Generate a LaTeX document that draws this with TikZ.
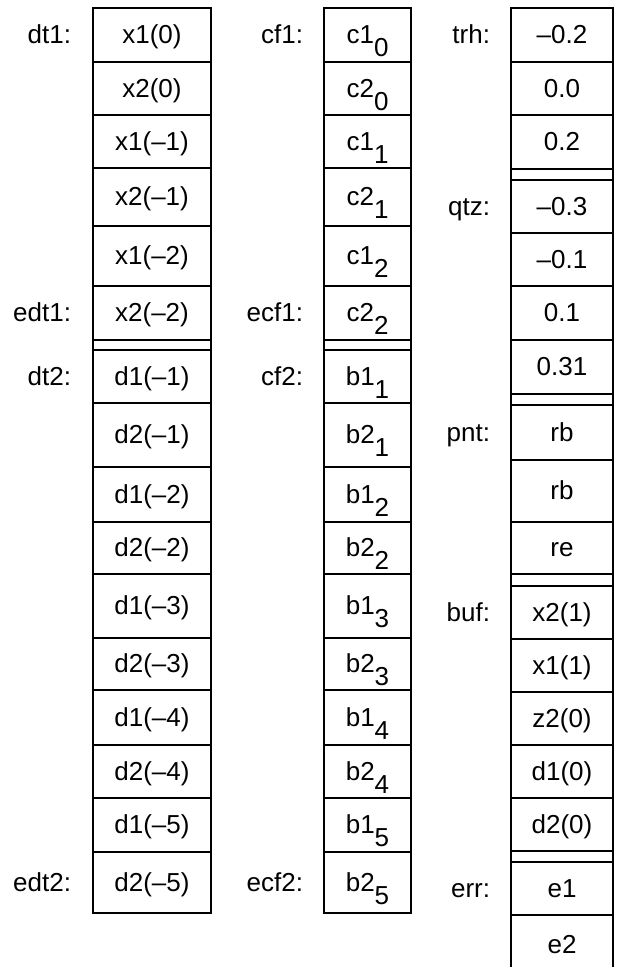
\documentclass[tikz,border=0pt]{standalone}
\usepackage{fontspec}
\setmainfont{Liberation Sans}
\begin{document}
\begin{tikzpicture}[x=1pt,y=-1pt,
  cell/.style={draw, line width=1.5pt, inner sep=0pt, text height=17.5pt, text depth=0pt,
    font=\fontsize{26pt}{30pt}\selectfont},
  colA/.style={cell, minimum width=118pt},
  colB/.style={cell, minimum width=87pt},
  colC/.style={cell, minimum width=102pt},
  strip/.style={text height=0pt, text depth=0pt},
  lab/.style={inner sep=0pt, text height=17.5pt, text depth=0pt, anchor=east,
    font=\fontsize{26pt}{30pt}\selectfont}]
\useasboundingbox (0,0) rectangle (617,967);
\newcommand{\sbx}[1]{\raisebox{-13pt}{#1}}
% ---------- column 1 ----------
\node[colA, minimum height=54pt] (a1) at (152,35) {x1(0)};
\node[colA, minimum height=53pt] (a2) at (152,88.5) {x2(0)};
\node[colA, minimum height=53pt] (a3) at (152,141.5) {x1(–1)};
\node[colA, minimum height=58pt] (a4) at (152,197) {x2(–1)};
\node[colA, minimum height=60pt] (a5) at (152,256) {x1(–2)};
\node[colA, minimum height=54pt] (a6) at (152,313) {x2(–2)};
\node[colA, strip, minimum height=10pt] (ag1) at (152,345) {};
\node[colA, minimum height=53pt] (a7) at (152,376.5) {d1(–1)};
\node[colA, minimum height=64pt] (a8) at (152,435) {d2(–1)};
\node[colA, minimum height=55pt] (a9) at (152,494.5) {d1(–2)};
\node[colA, minimum height=52pt] (a10) at (152,548) {d2(–2)};
\node[colA, minimum height=64pt] (a11) at (152,606) {d1(–3)};
\node[colA, minimum height=52pt] (a12) at (152,664) {d2(–3)};
\node[colA, minimum height=55pt] (a13) at (152,717.5) {d1(–4)};
\node[colA, minimum height=53pt] (a14) at (152,771.5) {d2(–4)};
\node[colA, minimum height=54pt] (a15) at (152,825) {d1(–5)};
\node[colA, minimum height=61pt] (a16) at (152,882.5) {d2(–5)};
\node[lab] (la1) at ([xshift=-21pt]a1.west) {dt1:};
\node[lab] (la6) at ([xshift=-21pt]a6.west) {edt1:};
\node[lab] (la7) at ([xshift=-21pt]a7.west) {dt2:};
\node[lab] (la16) at ([xshift=-21pt]a16.west) {edt2:};
% ---------- column 2 ----------
\node[colB, minimum height=54pt] (b1) at (367.5,35) {c1\sbx{0}};
\node[colB, minimum height=53pt] (b2) at (367.5,88.5) {c2\sbx{0}};
\node[colB, minimum height=53pt] (b3) at (367.5,141.5) {c1\sbx{1}};
\node[colB, minimum height=58pt] (b4) at (367.5,197) {c2\sbx{1}};
\node[colB, minimum height=60pt] (b5) at (367.5,256) {c1\sbx{2}};
\node[colB, minimum height=54pt] (b6) at (367.5,313) {c2\sbx{2}};
\node[colB, strip, minimum height=10pt] (bg1) at (367.5,345) {};
\node[colB, minimum height=53pt] (b7) at (367.5,376.5) {b1\sbx{1}};
\node[colB, minimum height=64pt] (b8) at (367.5,435) {b2\sbx{1}};
\node[colB, minimum height=55pt] (b9) at (367.5,494.5) {b1\sbx{2}};
\node[colB, minimum height=52pt] (b10) at (367.5,548) {b2\sbx{2}};
\node[colB, minimum height=64pt] (b11) at (367.5,606) {b1\sbx{3}};
\node[colB, minimum height=52pt] (b12) at (367.5,664) {b2\sbx{3}};
\node[colB, minimum height=55pt] (b13) at (367.5,717.5) {b1\sbx{4}};
\node[colB, minimum height=53pt] (b14) at (367.5,771.5) {b2\sbx{4}};
\node[colB, minimum height=54pt] (b15) at (367.5,825) {b1\sbx{5}};
\node[colB, minimum height=61pt] (b16) at (367.5,882.5) {b2\sbx{5}};
\node[lab] (lb1) at ([xshift=-20pt]b1.west) {cf1:};
\node[lab] (lb6) at ([xshift=-20pt]b6.west) {ecf1:};
\node[lab] (lb7) at ([xshift=-20pt]b7.west) {cf2:};
\node[lab] (lb16) at ([xshift=-20pt]b16.west) {ecf2:};
% ---------- column 3 ----------
\node[colC, minimum height=54pt] (c1) at (562,35) {–0.2};
\node[colC, minimum height=53pt] (c2) at (562,88.5) {0.0};
\node[colC, minimum height=54pt] (c3) at (562,142) {0.2};
\node[colC, strip, minimum height=11pt] (cg1) at (562,174.5) {};
\node[colC, minimum height=53pt] (c4) at (562,206.5) {–0.3};
\node[colC, minimum height=53pt] (c5) at (562,259.5) {–0.1};
\node[colC, minimum height=54pt] (c6) at (562,313) {0.1};
\node[colC, minimum height=54pt] (c7) at (562,367) {0.31};
\node[colC, strip, minimum height=11pt] (cg2) at (562,399.5) {};
\node[colC, minimum height=55pt] (c8) at (562,432.5) {rb};
\node[colC, minimum height=62pt] (c9) at (562,491) {rb};
\node[colC, minimum height=52pt] (c10) at (562,548) {re};
\node[colC, strip, minimum height=12pt] (cg3) at (562,580) {};
\node[colC, minimum height=53pt] (c11) at (562,612.5) {x2(1)};
\node[colC, minimum height=53pt] (c12) at (562,665.5) {x1(1)};
\node[colC, minimum height=53pt] (c13) at (562,718.5) {z2(0)};
\node[colC, minimum height=53pt] (c14) at (562,771.5) {d1(0)};
\node[colC, minimum height=53pt] (c15) at (562,824.5) {d2(0)};
\node[colC, strip, minimum height=11pt] (cg4) at (562,856.5) {};
\node[colC, minimum height=53pt] (c16) at (562,888.5) {e1};
\node[colC, minimum height=60pt] (c17) at (562,945) {e2};
\node[lab] (lc1) at ([xshift=-20pt]c1.west) {trh:};
\node[lab] (lc4) at ([xshift=-20pt]c4.west) {qtz:};
\node[lab] (lc8) at ([xshift=-20pt]c8.west) {pnt:};
\node[lab] (lc11) at ([xshift=-20pt]c11.west) {buf:};
\node[lab] (lc16) at ([xshift=-20pt]c16.west) {err:};
\end{tikzpicture}
\end{document}
